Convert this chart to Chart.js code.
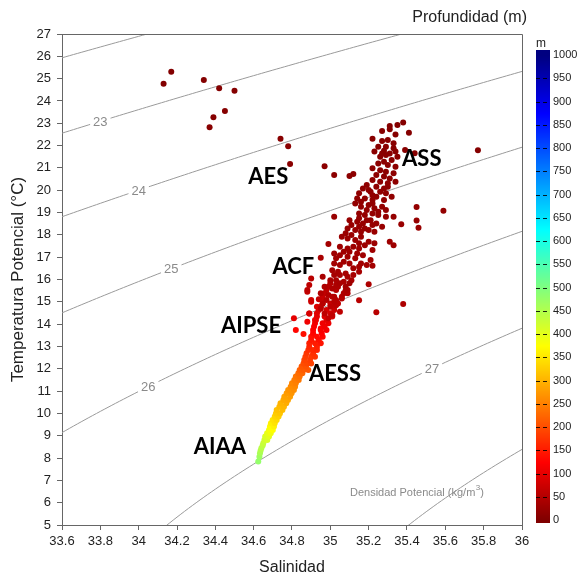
<!DOCTYPE html>
<html>
<head>
<meta charset="utf-8">
<script src="https://cdn.jsdelivr.net/npm/chart.js@4.4.1/dist/chart.umd.min.js"></script>
<style>
  html, body { margin: 0; padding: 0; background: #fff; }
</style>
</head>
<body>
<canvas id="ts" width="582" height="581"></canvas>
<script>
  // Salinidad, temperatura potencial (°C) y profundidad (m) de cada muestra
  var salinidad = [
    // banda profunda (AIPSE - AESS - AIAA)
    35.00, 35.05, 35.10, 34.98, 35.03, 35.09, 34.96, 35.01, 35.06, 34.96, 35.00, 35.04,
    34.94, 34.98, 35.02, 34.93, 34.97, 35.01, 34.92, 34.96, 34.99, 34.91, 34.95, 34.98,
    34.90, 34.93, 34.96, 34.89, 34.92, 34.95, 34.885, 34.91, 34.93, 34.87, 34.90, 34.92,
    34.86, 34.88, 34.90, 34.84, 34.86, 34.885, 34.82, 34.84, 34.80, 34.82, 34.78, 34.81,
    34.76, 34.79, 34.74, 34.77, 34.72, 34.75, 34.71, 34.73, 34.69, 34.71, 34.68, 34.70,
    34.66, 34.68, 34.65, 34.64, 34.633, 34.624,
    34.99, 35.08, 34.97, 35.07, 34.96, 35.03, 34.95, 35.02, 34.93, 35.00, 34.925, 34.98,
    34.915, 34.97, 34.91, 34.955, 34.90, 34.94, 34.89, 34.93, 34.876, 34.91, 34.864, 34.894,
    34.85, 34.873, 34.833, 34.854, 34.812, 34.835, 34.793, 34.816, 34.772, 34.798, 34.755, 34.779,
    34.734, 34.758, 34.716, 34.737, 34.699, 34.72, 34.685, 34.706, 34.67, 34.689, 34.656, 34.671,
    34.647, 34.636, 34.63,
    34.88, 34.90, 34.93, 34.89, 34.92, 34.88, 34.95, 34.81, 34.82, 34.86,
    34.90, 34.89, 34.88, 34.90, 34.94, 34.89,
    // nube central (ACF - ASS)
    35.26, 35.29, 35.28, 35.32, 35.25, 35.30, 35.34,
    35.22, 35.26, 35.29, 35.33, 35.24, 35.28, 35.31, 35.22, 35.26, 35.30, 35.34,
    35.17, 35.15, 35.20, 35.22, 35.26, 35.29, 35.32, 35.14, 35.18, 35.22, 35.28, 35.30,
    35.13, 35.16, 35.20, 35.23, 35.27, 35.29, 35.15, 35.18, 35.22, 35.25, 35.29,
    35.10, 35.14, 35.17, 35.21, 35.24, 35.27, 35.09, 35.13, 35.16, 35.20, 35.23, 35.33,
    35.06, 35.09, 35.13, 35.16, 35.20, 35.23, 35.05, 35.09, 35.12, 35.15, 35.22,
    35.02, 35.05, 35.09, 35.13, 35.17, 35.21, 35.02, 35.05, 35.10, 35.15, 35.19,
    35.01, 35.04, 35.08, 35.12, 35.15, 35.03, 35.07, 35.11, 35.00, 34.96,
    34.97, 35.01, 35.04, 35.08, 34.99, 35.02, 35.06, 35.09, 34.95,
    34.96, 35.00, 35.03, 34.97, 35.01, 35.05,
    35.19, 35.24, 35.28, 35.21, 35.24, 35.16, 35.19, 35.22, 35.25, 35.15, 35.19, 35.22,
    35.11, 35.15, 35.18, 35.08, 35.11, 35.15, 35.18, 35.10, 35.07, 35.14, 35.03, 35.07,
    35.12, 35.16, 35.05, 35.09, 35.02, 35.03, 34.98, 35.02, 34.95, 34.99,
    // ASS superior
    35.38, 35.35, 35.31, 35.31, 35.27, 35.34, 35.41, 35.22, 35.27, 35.33, 35.34,
    35.39, 35.44, 35.28, 35.30, 35.33, 35.25, 35.29, 35.23, 35.27, 35.31, 35.35,
    // AES y puntos aislados
    34.13, 34.17, 34.34, 34.42, 34.50, 34.45, 34.39, 34.37, 34.74, 34.78, 34.79,
    34.97, 35.02, 35.10, 35.12, 35.77, 35.59, 35.02, 35.45, 35.45, 35.46, 35.37,
    35.33, 35.31, 35.20, 35.15, 35.38, 35.24, 35.22, 34.95, 34.99
  ];
  var temperatura = [
    15.83, 15.83, 15.83, 15.53, 15.53, 15.53, 15.23, 15.23, 15.23, 14.93, 14.93, 14.93,
    14.63, 14.63, 14.63, 14.34, 14.34, 14.34, 14.04, 14.04, 14.04, 13.74, 13.74, 13.74,
    13.44, 13.44, 13.44, 13.14, 13.14, 13.14, 12.84, 12.84, 12.84, 12.54, 12.54, 12.54,
    12.24, 12.24, 12.24, 11.95, 11.95, 11.95, 11.65, 11.65, 11.35, 11.35, 11.05, 11.05,
    10.75, 10.75, 10.45, 10.45, 10.15, 10.15, 9.86, 9.86, 9.56, 9.56, 9.26, 9.26,
    8.96, 8.96, 8.66, 8.44, 8.21, 7.84,
    15.68, 15.68, 15.38, 15.38, 15.08, 15.08, 14.78, 14.78, 14.49, 14.49, 14.19, 14.19,
    13.89, 13.89, 13.59, 13.59, 13.29, 13.29, 12.99, 12.99, 12.69, 12.69, 12.39, 12.39,
    12.10, 12.10, 11.80, 11.80, 11.50, 11.50, 11.20, 11.20, 10.90, 10.90, 10.60, 10.60,
    10.30, 10.30, 10.00, 10.00, 9.71, 9.71, 9.41, 9.41, 9.11, 9.11, 8.81, 8.81,
    8.56, 8.33, 8.06,
    15.53, 15.08, 14.78, 14.48, 14.19, 14.11, 13.81, 14.26, 13.74, 13.56,
    16.05, 15.75, 15.45, 15.00, 15.11, 14.48,
    21.50, 21.58, 21.28, 21.35, 21.20, 21.13, 21.05,
    20.98, 20.90, 20.83, 20.76, 20.68, 20.61, 20.53, 20.46, 20.38, 20.31, 20.38,
    20.08, 19.86, 20.01, 19.78, 19.93, 19.86, 19.71, 19.63, 19.63, 19.56, 19.56, 20.16,
    19.41, 19.26, 19.34, 19.19, 19.26, 19.11, 18.96, 18.89, 18.96, 18.89, 18.81,
    18.66, 18.59, 18.51, 18.66, 18.51, 18.36, 18.29, 18.22, 18.14, 18.22, 18.14, 18.81,
    17.92, 17.84, 17.77, 17.92, 17.69, 17.62, 17.47, 17.39, 17.47, 17.39, 17.32,
    17.17, 17.09, 17.02, 16.95, 17.09, 16.87, 16.72, 16.65, 16.72, 16.57, 16.65,
    16.42, 16.35, 16.27, 16.20, 16.35, 15.97, 15.90, 15.97, 15.97, 16.12,
    15.68, 15.60, 15.68, 15.52, 15.30, 15.23, 15.15, 15.38, 15.38,
    14.93, 14.78, 14.85, 14.48, 14.41, 14.55,
    20.23, 20.16, 20.08, 19.93, 19.71, 19.48, 19.11, 19.41, 19.04, 18.74, 18.66, 18.44,
    18.44, 18.36, 18.29, 18.07, 17.99, 17.62, 17.54, 17.24, 17.24, 17.17, 16.95, 16.80,
    16.50, 16.72, 16.20, 16.12, 16.20, 15.75, 15.08, 15.00, 14.70, 14.26,
    23.03, 22.92, 22.88, 22.73, 22.65, 22.50, 22.58, 22.31, 22.21, 21.88, 21.74,
    21.80, 21.66, 21.77, 22.25, 22.10, 21.95, 21.95, 21.73, 21.65, 21.65, 21.50,
    24.77, 25.31, 24.94, 24.57, 24.46, 23.55, 23.27, 22.82, 22.31, 21.97, 21.18,
    21.07, 20.68, 20.64, 20.73, 21.79, 19.08, 18.81, 19.25, 18.64, 18.32, 18.47,
    17.53, 17.69, 15.79, 15.07, 14.90, 14.53, 16.62, 16.98, 17.59
  ];
  var profundidad = [
    50, 40, 30, 60, 50, 40, 70, 60, 50, 80, 70, 60,
    90, 85, 75, 100, 95, 90, 115, 110, 105, 125, 120, 115,
    140, 135, 130, 155, 150, 145, 170, 165, 160, 185, 180, 175,
    200, 195, 190, 220, 215, 210, 240, 235, 255, 250, 270, 265,
    285, 280, 300, 295, 315, 310, 335, 330, 360, 350, 385, 375,
    410, 400, 430, 445, 460, 480,
    55, 35, 65, 45, 75, 55, 85, 70, 95, 85, 105, 100,
    120, 112, 130, 125, 148, 140, 160, 155, 178, 172, 192, 186,
    210, 205, 230, 225, 248, 243, 262, 258, 278, 272, 292, 288,
    308, 303, 325, 320, 348, 340, 372, 362, 398, 388, 420, 412,
    438, 452, 470,
    60, 80, 90, 100, 110, 110, 120, 100, 130, 140,
    55, 60, 65, 75, 65, 85,
    10, 10, 11, 11, 11, 12, 12,
    12, 12, 12, 13, 13, 13, 14, 14, 14, 15, 14,
    15, 16, 15, 16, 16, 16, 17, 17, 17, 17, 17, 15,
    18, 19, 18, 19, 19, 20, 20, 21, 20, 21, 21,
    22, 22, 23, 22, 23, 24, 24, 25, 25, 25, 25, 21,
    26, 27, 27, 26, 28, 28, 29, 30, 29, 30, 31,
    31, 32, 32, 33, 32, 34, 35, 35, 35, 36, 35,
    37, 38, 39, 40, 38, 42, 43, 42, 42, 40,
    45, 46, 45, 48, 50, 51, 52, 49, 50,
    55, 58, 57, 62, 64, 60,
    15, 15, 15, 16, 17, 18, 20, 18, 20, 21, 22, 23,
    23, 24, 24, 26, 26, 28, 28, 31, 31, 32, 33, 34,
    36, 34, 39, 40, 39, 44, 52, 53, 58, 66,
    5, 5, 5, 6, 6, 6, 5, 8, 8, 8, 8,
    8, 8, 8, 8, 8, 10, 10, 10, 10, 10, 10,
    3, 3, 4, 4, 5, 6, 6, 8, 8, 10, 10,
    12, 12, 12, 12, 5, 20, 25, 20, 22, 25, 25,
    30, 30, 45, 55, 45, 55, 35, 40, 35
  ];

  // isopicnas (sigma-theta, kg/m3) y cuáles llevan rótulo
  var isopicnas = [22, 23, 24, 25, 26, 27, 28];
  var isoRotuladas = [23, 24, 25, 26, 27];
  var salRotuloIso = [33.80, 34.00, 34.17, 34.05, 35.53];

  // masas de agua
  var masasAgua = ["AES", "ASS", "ACF", "AIPSE", "AESS", "AIAA"];
  var masasSal = [34.676, 35.477, 34.807, 34.586, 35.024, 34.424];
  var masasTemp = [20.58, 21.39, 16.57, 13.93, 11.76, 8.48];

  var ticksProf = [0, 50, 100, 150, 200, 250, 300, 350, 400, 450, 500,
                   550, 600, 650, 700, 750, 800, 850, 900, 950, 1000];

  // colormap tipo jet invertido: 0 m rojo oscuro, 1000 m azul oscuro
  function jet(d) {
    var v = 1 - Math.max(0, Math.min(1000, d)) / 1000;
    function c(x) { return Math.round(255 * Math.max(0, Math.min(1, 1.5 - Math.abs(x)))); }
    return "rgb(" + c(4 * v - 3) + "," + c(4 * v - 2) + "," + c(4 * v - 1) + ")";
  }

  // densidad potencial UNESCO 1980 a p = 0
  function sigmaTheta(S, T) {
    var rw = 999.842594 + 6.793952e-2 * T - 9.095290e-3 * T * T + 1.001685e-4 * T * T * T
           - 1.120083e-6 * Math.pow(T, 4) + 6.536332e-9 * Math.pow(T, 5);
    var a = 0.824493 - 4.0899e-3 * T + 7.6438e-5 * T * T - 8.2467e-7 * T * T * T + 5.3875e-9 * Math.pow(T, 4);
    var b = -5.72466e-3 + 1.0227e-4 * T - 1.6546e-6 * T * T;
    return rw + a * S + b * Math.pow(S, 1.5) + 4.8314e-4 * S * S - 1000;
  }
  function tempIso(S, sig) {
    var lo = -2, hi = 40;
    for (var k = 0; k < 50; k++) {
      var m = (lo + hi) / 2;
      if (sigmaTheta(S, m) > sig) lo = m; else hi = m;
    }
    return (lo + hi) / 2;
  }

  var FONT = "'Liberation Sans', Arial, sans-serif";
  Chart.defaults.font.family = FONT;

  var idx = salinidad.map(function (_, i) { return i; });
  idx.sort(function (a, b) { return profundidad[b] - profundidad[a]; });

  var puntos = {
    label: "Profundidad",
    data: idx.map(function (i) { return { x: salinidad[i], y: temperatura[i] }; }),
    backgroundColor: idx.map(function (i) { return jet(profundidad[i]); }),
    borderWidth: 0,
    pointRadius: 3,
    order: 0
  };

  var lineas = isopicnas.map(function (sig) {
    var pts = [];
    for (var k = 0; k <= 130; k++) {
      var s = 33.5 + k * 0.02;
      pts.push({ x: s, y: tempIso(s, sig) });
    }
    return {
      label: "sigma " + sig,
      data: pts,
      showLine: true,
      borderColor: "#9a9a9a",
      borderWidth: 1,
      pointRadius: 0,
      order: 1
    };
  });

  var decor = {
    id: "decor",
    beforeDatasetDraw: function (chart, args) {
      if (args.index !== 0) return;
      var ctx = chart.ctx, sx = chart.scales.x, sy = chart.scales.y;
      ctx.save();
      ctx.font = "13px " + FONT;
      ctx.textAlign = "center";
      ctx.textBaseline = "middle";
      isoRotuladas.forEach(function (sig, i) {
        var s = salRotuloIso[i];
        var px = sx.getPixelForValue(s), py = sy.getPixelForValue(tempIso(s, sig));
        var txt = String(sig), w = ctx.measureText(txt).width;
        ctx.fillStyle = "#fff";
        ctx.fillRect(px - w / 2 - 3, py - 7, w + 6, 14);
        ctx.fillStyle = "#8a8a8a";
        ctx.fillText(txt, px, py + 1);
      });
      ctx.restore();
    },
    afterDraw: function (chart) {
      var ctx = chart.ctx, a = chart.chartArea, sx = chart.scales.x, sy = chart.scales.y;
      ctx.save();
      // marco superior y derecho
      ctx.strokeStyle = "#666";
      ctx.lineWidth = 1;
      ctx.beginPath();
      ctx.moveTo(a.left, a.top + 0.5);
      ctx.lineTo(a.right + 0.5, a.top + 0.5);
      ctx.lineTo(a.right + 0.5, a.bottom);
      ctx.stroke();

      // masas de agua
      ctx.fillStyle = "#000";
      ctx.font = "bold 22px Lato, " + FONT;
      ctx.textAlign = "center";
      ctx.textBaseline = "middle";
      masasAgua.forEach(function (m, i) {
        ctx.fillText(m, sx.getPixelForValue(masasSal[i]), sy.getPixelForValue(masasTemp[i]));
      });

      // leyenda de densidad
      ctx.fillStyle = "#8a8a8a";
      ctx.font = "11px " + FONT;
      ctx.textAlign = "left";
      var tx = a.right - 172, ty = a.bottom - 32;
      var t1 = "Densidad Potencial (kg/m";
      ctx.fillText(t1, tx, ty);
      var w1 = ctx.measureText(t1).width;
      ctx.font = "8px " + FONT;
      ctx.fillText("3", tx + w1 + 0.5, ty - 5);
      ctx.font = "11px " + FONT;
      ctx.fillText(")", tx + w1 + 5, ty);

      // barra de color
      var bx = 536, bw = 14, y0 = 520, y1 = 55;
      function yOf(v) { return y0 - (y0 - y1) * v / 1000; }
      for (var y = 50; y < 523; y++) {
        ctx.fillStyle = jet((y0 - y) / (y0 - y1) * 1000);
        ctx.fillRect(bx, y, bw, 1);
      }
      ctx.strokeStyle = "rgba(0,0,0,0.85)";
      ctx.setLineDash([4, 3]);
      ticksProf.forEach(function (v) {
        if (v === 0 || v === 1000) return;
        var yy = Math.round(yOf(v)) + 0.5;
        ctx.beginPath();
        ctx.moveTo(bx, yy);
        ctx.lineTo(bx + bw, yy);
        ctx.stroke();
      });
      ctx.setLineDash([]);
      ctx.fillStyle = "#222";
      ctx.font = "11px " + FONT;
      ctx.textAlign = "left";
      ticksProf.forEach(function (v) {
        ctx.fillText(String(v), 553, yOf(v));
      });
      ctx.font = "12px " + FONT;
      ctx.textAlign = "center";
      ctx.fillText("m", 541, 44);

      ctx.font = "16px " + FONT;
      ctx.textAlign = "right";
      ctx.fillText("Profundidad (m)", 527, 18);
      ctx.restore();
    }
  };

  var ejeColor = "#666";
  new Chart(document.getElementById("ts"), {
    type: "scatter",
    data: { datasets: [puntos].concat(lineas) },
    options: {
      responsive: false,
      animation: false,
      events: [],
      layout: { padding: { left: 0, right: 60, top: 34, bottom: 0 } },
      plugins: { legend: { display: false }, tooltip: { enabled: false } },
      scales: {
        x: {
          type: "linear",
          min: 33.6,
          max: 36,
          afterFit: function (s) { s.height = 56; },
          ticks: {
            stepSize: 0.2,
            autoSkip: false,
            maxRotation: 0,
            padding: 4,
            color: "#222",
            font: { size: 13 },
            callback: function (v) { return String(+v.toFixed(1)); }
          },
          grid: { drawOnChartArea: false, drawTicks: true, tickLength: 5, color: ejeColor },
          border: { color: ejeColor },
          title: { display: true, text: "Salinidad", color: "#222", font: { size: 16 }, padding: { top: 0, bottom: 4 } }
        },
        y: {
          type: "linear",
          min: 5,
          max: 27,
          afterFit: function (s) { s.width = 62; },
          ticks: { stepSize: 1, padding: 6, color: "#222", font: { size: 13 } },
          grid: { drawOnChartArea: false, drawTicks: true, tickLength: 5, color: ejeColor },
          border: { color: ejeColor },
          title: { display: true, text: "Temperatura Potencial (°C)", color: "#222", font: { size: 17 }, padding: { top: 8, bottom: 0 } }
        }
      }
    },
    plugins: [decor]
  });
</script>
</body>
</html>
